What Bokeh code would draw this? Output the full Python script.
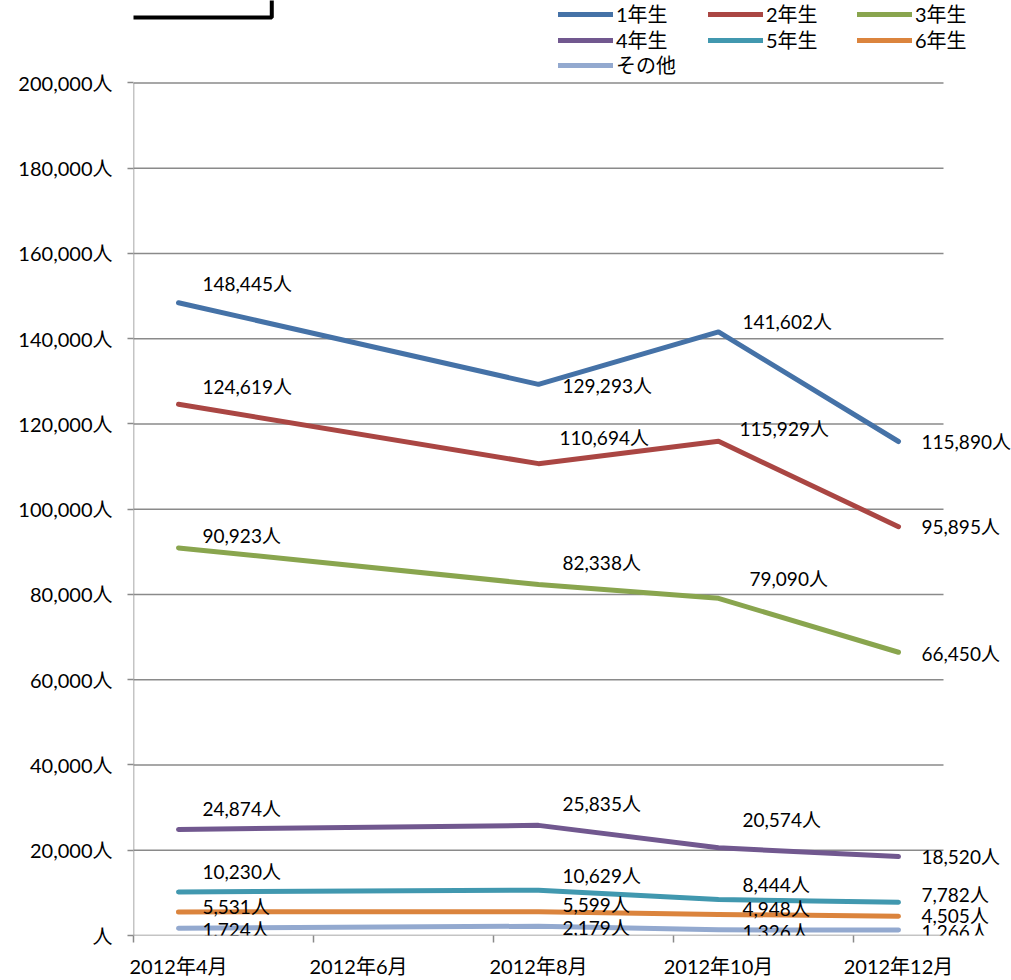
from bokeh.plotting import figure
from bokeh.models import (Range1d, FixedTicker, Legend, LegendItem, ColumnDataSource,
                          Label)
from bokeh.core.properties import value
from bokeh.embed import file_html
from bokeh.resources import INLINE

# ---- data ----
months = ["2012年4月", "2012年6月", "2012年8月", "2012年10月", "2012年12月"]
month_pos = [0, 2, 4, 6, 8]          # month index from April
data_pos = [0, 4, 6, 8]              # April, August, October, December
series_names = ["1年生", "2年生", "3年生", "4年生", "5年生", "6年生", "その他"]
s1 = [148445, 129293, 141602, 115890]
s2 = [124619, 110694, 115929, 95895]
s3 = [90923, 82338, 79090, 66450]
s4 = [24874, 25835, 20574, 18520]
s5 = [10230, 10629, 8444, 7782]
s6 = [5531, 5599, 4948, 4505]
s7 = [1724, 2179, 1326, 1266]
y_ticks = [0, 20000, 40000, 60000, 80000, 100000, 120000, 140000, 160000, 180000, 200000]

# ---- style / layout ----
colors = ["#4572A7", "#AA4643", "#89A54E", "#71588F", "#4198AF", "#DB843D", "#93A9CF"]
dy = [[-19, 1, -10, 0],
      [-18, -26, -13, 0],
      [-12, -22, -20, 1],
      [-21, -22, -28, 0],
      [-20, -15, -15, -8],
      [-5, -7, -6, -1],
      [1, 1, 2, 1]]
dx = [[24, 24, 24, 23],
      [24, 21, 21, 23],
      [24, 24, 31, 23],
      [24, 24, 24, 23],
      [24, 24, 24, 23],
      [24, 24, 24, 23],
      [24, 24, 24, 23]]
FONT = "Lato, 'Noto Sans CJK JP', sans-serif"
FS = "20px"
LFS = "19px"
GRID = "#8a8a8a"

W, H = 1011, 980
LEFT, BOTTOM = 133, 39
X0, X1 = -0.5, 8.5       # axis span (9 month slots)
Y1 = 200000
plot_w_px = 943 - LEFT
plot_h_px = 941 - 83
x_end = X0 + (X1 - X0) * (W - LEFT) / plot_w_px
y_end = Y1 * (H - BOTTOM) / plot_h_px

p = figure(width=W, height=H, output_backend="svg", toolbar_location=None,
           x_range=Range1d(X0, x_end), y_range=Range1d(0, y_end),
           min_border_left=LEFT, min_border_right=0, min_border_top=0,
           min_border_bottom=BOTTOM)
p.outline_line_color = None
p.background_fill_color = "white"
p.border_fill_color = "white"
p.xgrid.visible = False
p.ygrid.visible = False

# gridlines and axis lines limited to the chart span
p.segment(x0=[X0] * len(y_ticks), x1=[X1] * len(y_ticks), y0=y_ticks, y1=y_ticks,
          line_color=GRID, line_width=1.5)
p.segment(x0=[X0], x1=[X0], y0=[0], y1=[Y1], line_color=GRID, line_width=1.5)

# axes
xa = p.xaxis[0]
xa.ticker = FixedTicker(ticks=month_pos, minor_ticks=[-0.5, 1.5, 3.5, 5.5, 7.5])
xa.major_label_overrides = {m: lab for m, lab in zip(month_pos, months)}
xa.major_tick_out = 0
xa.major_tick_in = 0
xa.minor_tick_out = 7
xa.minor_tick_in = 0
xa.minor_tick_line_color = GRID
xa.minor_tick_line_width = 1.5
xa.axis_line_color = None
xa.major_label_standoff = 11
xa.major_label_text_font = FONT
xa.major_label_text_font_size = FS
xa.major_label_text_color = "black"

ya = p.yaxis[0]
ya.ticker = FixedTicker(ticks=y_ticks)
ya.major_label_overrides = {t: (f"{t:,}人" if t else "人") for t in y_ticks}
ya.major_tick_out = 6
ya.major_tick_in = 0
ya.minor_tick_out = 0
ya.minor_tick_in = 0
ya.major_tick_line_color = GRID
ya.major_tick_line_width = 1.5
ya.axis_line_color = None
ya.major_label_standoff = 15
ya.major_label_text_font = FONT
ya.major_label_text_font_size = FS
ya.major_label_text_color = "black"

all_series = [s1, s2, s3, s4, s5, s6, s7]
renderers = []
for name, vals, col, oy, ox in zip(series_names, all_series, colors, dy, dx):
    src = ColumnDataSource(dict(x=data_pos, y=vals,
                                lab=[f"{v:,}人" for v in vals], oy=oy, ox=ox))
    r = p.line("x", "y", source=src, line_color=col, line_width=5,
               line_cap="round", line_join="round")
    renderers.append(r)
    p.text("x", "y", text="lab", source=src, x_offset="ox", y_offset="oy",
           text_align="left", text_baseline="middle",
           text_font=value(FONT), text_font_size=LFS, text_color="black")

# legend: one legend per entry, arranged 3 columns x 3 rows at top right
frame_bottom = H - BOTTOM
col_px = [558, 708, 857]
row_bottom_px = [34, 60, 85]
for i, name in enumerate(series_names):
    c, rrow = i % 3, i // 3
    lg = Legend(items=[LegendItem(label=name, renderers=[renderers[i]])],
                location=(col_px[c] - LEFT, frame_bottom - row_bottom_px[rrow]),
                orientation="vertical",
                glyph_width=55, glyph_height=20, label_height=20, spacing=0,
                label_standoff=3, padding=0, margin=0,
                border_line_color=None, background_fill_alpha=0,
                label_text_font=FONT, label_text_font_size=FS,
                label_text_color="black")
    p.add_layout(lg)

# title box remnant at top-left (empty label with a border)
box = Label(x=27, y=17, x_units="canvas", y_units="canvas", text=" ",
            text_font_size="1px", text_baseline="bottom", text_align="left",
            padding=(122, 122, 60, 0),
            border_line_color="black", border_line_width=4, border_line_alpha=1.0,
            background_fill_color=None)
p.add_layout(box)

open("out.html", "w").write(file_html(p, INLINE))
